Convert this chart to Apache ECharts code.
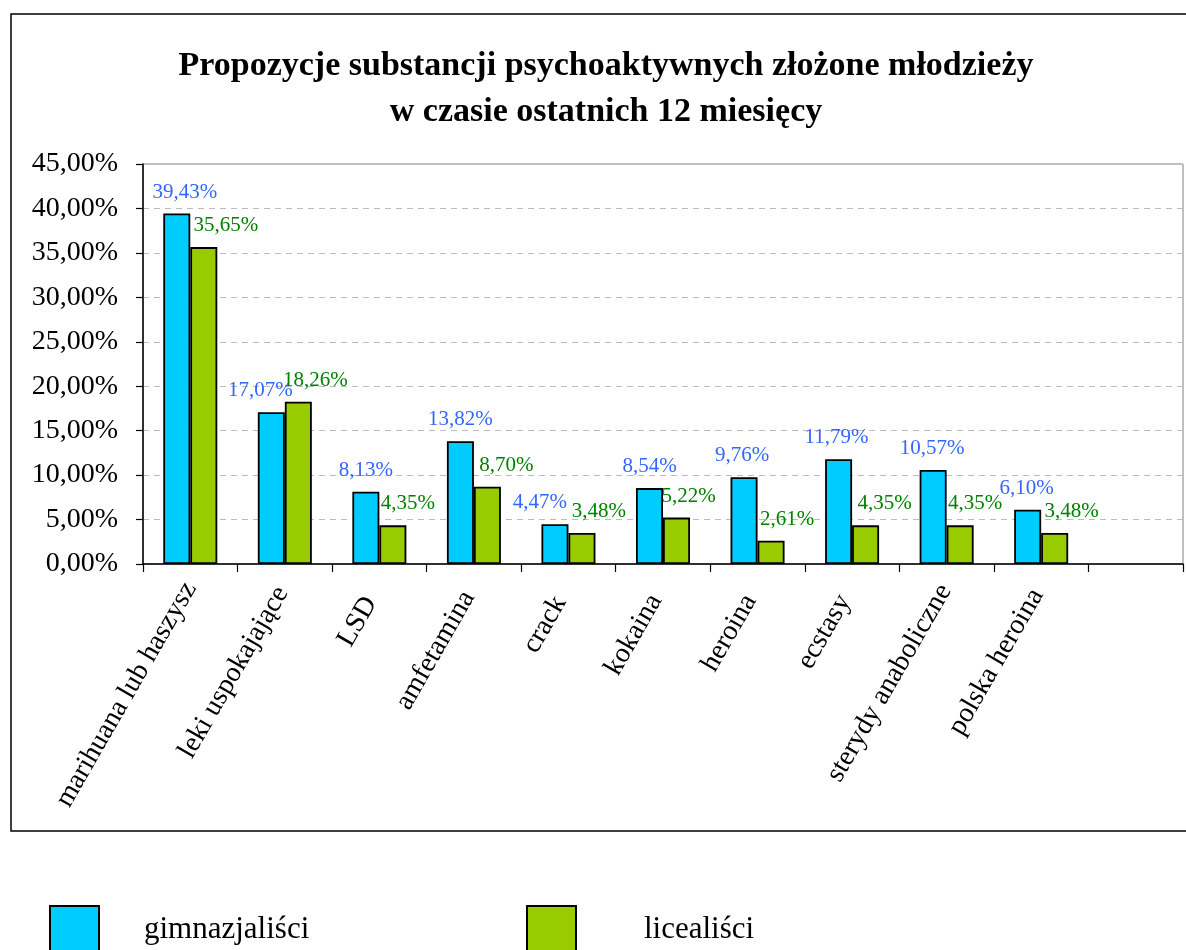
<!DOCTYPE html>
<html>
<head>
<meta charset="utf-8">
<script src="https://cdn.jsdelivr.net/npm/echarts@6/dist/echarts.min.js"></script>
<style>
html,body{margin:0;padding:0;background:#fff;}
#chart{width:1186px;height:950px;}
</style>
</head>
<body>
<div id="chart"></div>
<script>
// ---- data ----
const categories = ['marihuana lub haszysz', 'leki uspokajające', 'LSD', 'amfetamina', 'crack', 'kokaina', 'heroina', 'ecstasy', 'sterydy anaboliczne', 'polska heroina', ''];
const gimnazjalisci = [39.43, 17.07, 8.13, 13.82, 4.47, 8.54, 9.76, 11.79, 10.57, 6.10, null];
const licealisci = [35.65, 18.26, 4.35, 8.70, 3.48, 5.22, 2.61, 4.35, 4.35, 3.48, null];
const seriesNames = ['gimnazjaliści', 'licealiści'];
const yMin = 0, yMax = 45, yStep = 5;

// ---- style ----
const FONT = "'Times New Roman', 'Liberation Serif', serif";
const XFONT_SIZE = 28;
const blueLabelShift = [8, -11, 0, 0, -15, 0, -2, -2, -1, -1, 0];
const greenLabelShift = [22, 17, 15, 19, 17, 12, 16, 19, 15, 17, 0];

function pct(v) { return v.toFixed(2).replace('.', ',') + '%'; }

function build(values, shifts) {
  return values.map((v, i) => v == null ? '-' : ({ value: v, label: { offset: [shifts[i], 0] } }));
}

// longer rotated labels sit slightly further out in the original; nudge shorter ones back
const ctx = document.createElement('canvas').getContext('2d');
ctx.font = XFONT_SIZE + 'px ' + FONT;
const widths = categories.map(c => ctx.measureText(c).width);
const maxW = Math.max.apply(null, widths);
const xData = categories.map((c, i) => ({
  value: c,
  textStyle: { padding: [9, Math.max(0, 0.085 * (maxW - widths[i])), 0, 0] }
}));

const chart = echarts.init(document.getElementById('chart'), null, { renderer: 'canvas' });
chart.setOption({
  animation: false,
  backgroundColor: '#fff',
  title: {
    text: 'Propozycje substancji psychoaktywnych złożone młodzieży\nw czasie ostatnich 12 miesięcy',
    left: 606,
    top: 43,
    padding: 0,
    textAlign: 'center',
    textStyle: { fontFamily: FONT, fontWeight: 'bold', fontSize: 34, lineHeight: 46, color: '#000' }
  },
  graphic: [{
    type: 'rect', silent: true, z: -1,
    shape: { x: 11, y: 14, width: 1200, height: 817 },
    style: { fill: 'none', stroke: '#000', lineWidth: 1.5 }
  }],
  legend: [
    { data: [seriesNames[0]], left: 44, top: 900, itemWidth: 49, itemHeight: 48, icon: 'rect',
      textStyle: { fontFamily: FONT, fontSize: 31, color: '#000', padding: [0, 0, 30, 40] } },
    { data: [seriesNames[1]], left: 521, top: 900, itemWidth: 49, itemHeight: 48, icon: 'rect',
      textStyle: { fontFamily: FONT, fontSize: 31, color: '#000', padding: [0, 0, 30, 63] } }
  ],
  grid: {
    left: 143, top: 164, width: 1040, height: 400,
    show: true, borderColor: '#808080', borderWidth: 1,
    outerBoundsMode: 'none', containLabel: false
  },
  xAxis: {
    type: 'category',
    data: xData,
    axisLine: { lineStyle: { color: '#000', width: 1.5 } },
    axisTick: { show: true, length: 8, lineStyle: { color: '#000', width: 1.2 } },
    axisLabel: { interval: 0, rotate: 60, margin: 20, fontFamily: FONT, fontSize: XFONT_SIZE, color: '#000' },
    splitLine: { show: false }
  },
  yAxis: {
    type: 'value',
    min: yMin, max: yMax, interval: yStep,
    axisLine: { show: true, lineStyle: { color: '#000', width: 1.5 } },
    axisTick: { show: true, length: 7, lineStyle: { color: '#000', width: 1.2 } },
    axisLabel: { margin: 25, fontFamily: FONT, fontSize: 28, color: '#000', formatter: pct },
    splitLine: { show: true, lineStyle: { color: '#bcbcbc', type: [6, 5], width: 1 } }
  },
  series: [
    {
      name: seriesNames[0], type: 'bar', barWidth: 27, barGap: '0%',
      data: build(gimnazjalisci, blueLabelShift),
      itemStyle: { color: '#00CCFF', borderColor: '#000', borderWidth: 1.8 },
      label: { show: true, position: 'top', distance: 11, fontFamily: FONT, fontSize: 21, color: '#3366FF',
        formatter: p => pct(p.value) }
    },
    {
      name: seriesNames[1], type: 'bar', barWidth: 27, barGap: '0%',
      data: build(licealisci, greenLabelShift),
      itemStyle: { color: '#99CC00', borderColor: '#000', borderWidth: 1.8 },
      label: { show: true, position: 'top', distance: 11, fontFamily: FONT, fontSize: 21, color: '#008000',
        formatter: p => pct(p.value) }
    }
  ]
});
</script>
</body>
</html>
